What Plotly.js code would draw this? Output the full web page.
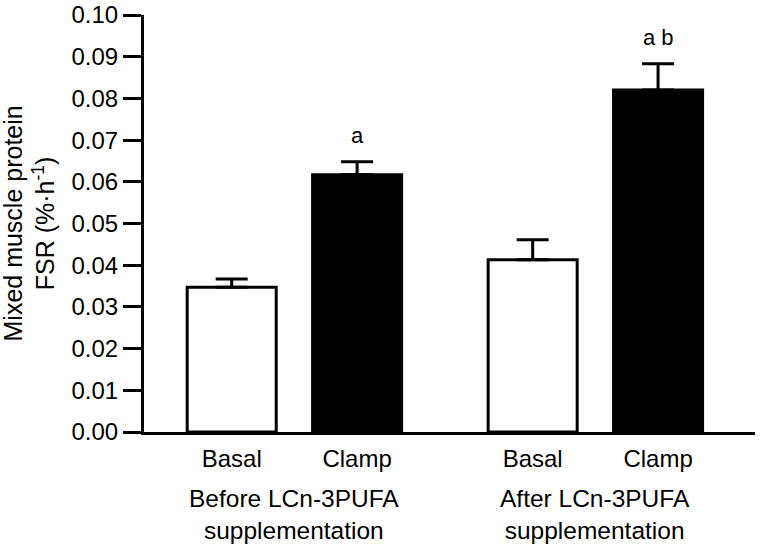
<!DOCTYPE html>
<html>
<head>
<meta charset="utf-8">
<script src="https://cdn.plot.ly/plotly-3.0.1.min.js"></script>
<style>html,body{margin:0;padding:0;background:#fff;}#chart{width:762px;height:549px;}</style>
</head>
<body>
<div id="chart"></div>
<script>
// ---- data ----
const categories = ['Basal', 'Clamp', 'Basal', 'Clamp'];
const groups = ['Before LCn-3PUFA<br>supplementation', 'After LCn-3PUFA<br>supplementation'];
const fsrValues = [0.0347, 0.0617, 0.0413, 0.0820];
const fsrErrors = [0.0020, 0.0031, 0.0048, 0.0063];
const sigLabels = ['', 'a', '', 'a b'];
const sigY = [null, 0.0712, null, 0.0947];
const yTickVals = [0, 0.01, 0.02, 0.03, 0.04, 0.05, 0.06, 0.07, 0.08, 0.09, 0.10];

// ---- layout (slot positions, not data) ----
const xpos = [1, 2, 3.4, 4.4];
const groupCenters = [1.5, 3.9];
const fills = ['#ffffff', '#000000', '#ffffff', '#000000'];
const FONT = 'Liberation Sans, Arial, Helvetica, sans-serif';

const trace = {
  type: 'bar',
  x: xpos,
  y: fsrValues,
  width: 0.71,
  marker: {color: fills, line: {color: '#000', width: 3}},
  error_y: {
    type: 'data', symmetric: false, array: fsrErrors,
    arrayminus: fsrErrors.map(() => 0),
    color: '#000', thickness: 3, width: 16
  },
  hoverinfo: 'skip'
};

const annotations = [];
sigLabels.forEach((t, i) => {
  if (t) annotations.push({
    x: xpos[i], y: sigY[i], xref: 'x', yref: 'y', text: t, showarrow: false,
    font: {family: FONT, size: 22, color: '#000'}, xanchor: 'center', yanchor: 'middle'
  });
});
groups.forEach((g, i) => {
  annotations.push({
    x: groupCenters[i], y: 0, xref: 'x', yref: 'paper', text: g, showarrow: false,
    font: {family: FONT, size: 24.5, color: '#000'}, xanchor: 'center', yanchor: 'top', yshift: -51
  });
});
annotations.push({
  x: 0, y: 0.5, xref: 'paper', yref: 'paper', xshift: -115, textangle: -90,
  text: 'Mixed muscle protein<br>FSR (%·h<sup>-1</sup>)', showarrow: false,
  font: {family: FONT, size: 25, color: '#000'}, xanchor: 'center', yanchor: 'middle'
});

const layout = {
  width: 762, height: 549,
  margin: {l: 144, r: 7, t: 15, b: 117},
  paper_bgcolor: '#fff', plot_bgcolor: '#fff',
  showlegend: false,
  font: {family: FONT, color: '#000'},
  xaxis: {
    range: [0.3006, 5.173], tickvals: xpos, ticktext: categories,
    ticks: '', showgrid: false, zeroline: false, showline: true,
    linecolor: '#000', linewidth: 3, ticklabelstandoff: 3,
    tickfont: {family: FONT, size: 24, color: '#000'}, fixedrange: true
  },
  yaxis: {
    range: [0, 0.10], tickvals: yTickVals, tickformat: '.2f',
    ticks: 'outside', ticklen: 18, tickwidth: 3, tickcolor: '#000',
    showgrid: false, zeroline: false, showline: true, linecolor: '#000', linewidth: 3,
    ticklabelstandoff: 0,
    tickfont: {family: FONT, size: 24, color: '#000'}, fixedrange: true
  },
  annotations: annotations,
  bargap: 0
};

Plotly.newPlot('chart', [trace], layout, {displayModeBar: false, staticPlot: true});
</script>
</body>
</html>
